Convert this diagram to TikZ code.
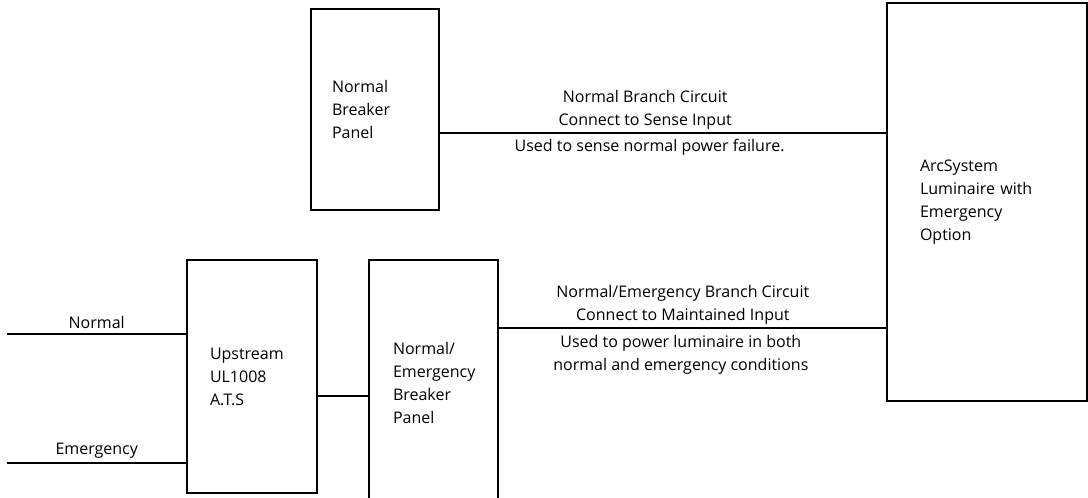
\documentclass[tikz,border=0pt]{standalone}
\usepackage{fontspec}
\setmainfont{Open Sans}

\begin{document}
\begin{tikzpicture}[x=0.75pt,y=-0.75pt,line width=0.9pt,
    every node/.style={font=\fontsize{12pt}{17.25pt}\selectfont},
    box/.style={draw,rectangle,align=left,inner sep=0pt},
    tag/.style={align=center,inner sep=2pt}]
    \useasboundingbox (0,0) rectangle (1088,497);
    \clip (0,0) rectangle (1088,497);
    \node[box,text width=64.5pt,minimum width=96pt,minimum height=150.75pt] (pnl) at (375,109.5) {Normal\\Breaker\\Panel};
    \node[box,text width=63pt,minimum width=97.5pt,minimum height=174.75pt] (ats) at (252,376.5) {Upstream\\UL1008\\A.T.S};
    \node[box,text width=60.75pt,minimum width=96.75pt,minimum height=184.5pt] (ne) at (433.5,383) {Normal/\\Emergency\\Breaker\\Panel};
    \node[box,text width=100.5pt,minimum width=150pt,minimum height=298.5pt] (lum) at (987,202) {ArcSystem\\Luminaire with\\Emergency\\Option};
    \coordinate (sense) at (0,133);
    \coordinate (maint) at (0,328);
    \coordinate (feed) at (0,396);
    \coordinate (nIn) at (7,334);
    \coordinate (eIn) at (7,463);
    \draw (pnl.east |- sense) -- node[tag,above,pos=0.46] (senseA) {Normal Branch Circuit\\Connect to Sense Input}
        node[tag,below,pos=0.47,yshift=-2pt] (senseB) {Used to sense normal power failure.} (lum.west |- sense);
    \draw (ne.east |- maint) -- node[tag,above,pos=0.475] (maintA) {Normal/Emergency Branch Circuit\\Connect to Maintained Input}
        node[tag,below,pos=0.47,yshift=-3pt] (maintB) {Used to power luminaire in both\\normal and emergency conditions} (lum.west |- maint);
    \draw (nIn) -- node[above] (nLbl) {Normal} (nIn -| ats.west);
    \draw (eIn) -- node[above] (eLbl) {Emergency} (eIn -| ats.west);
    \draw (ats.east |- feed) -- (ne.west |- feed);
\end{tikzpicture}
\end{document}
